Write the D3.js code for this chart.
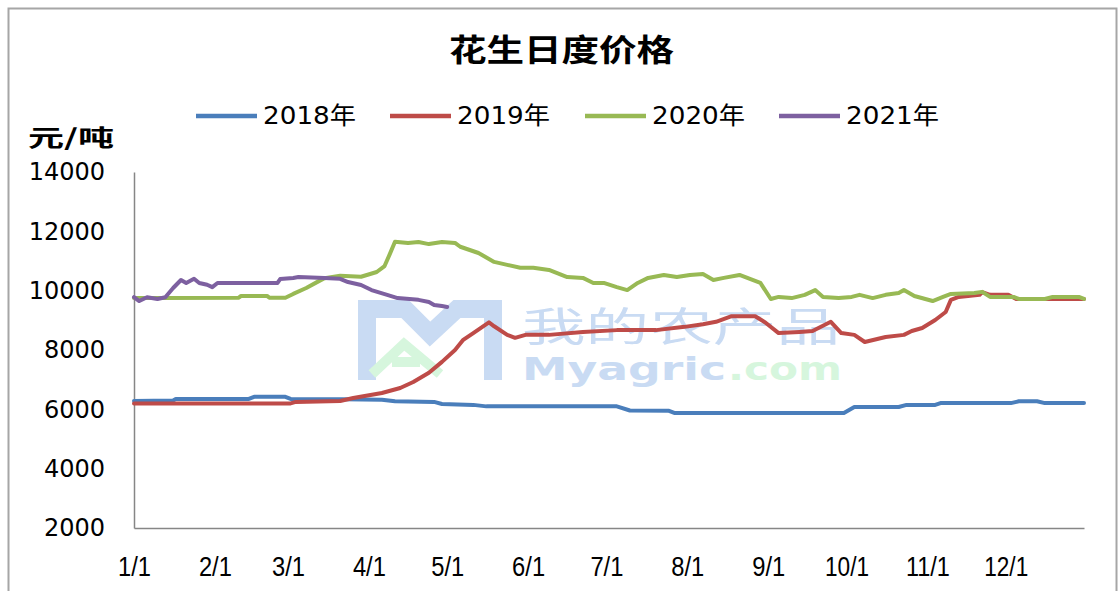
<!DOCTYPE html>
<html><head><meta charset="utf-8">
<script src="https://cdn.jsdelivr.net/npm/d3@7/dist/d3.min.js"></script>
<style>html,body{margin:0;padding:0;background:#fff;}svg{display:block;}</style>
</head><body>
<script>
// ---- data (day of year index, price 元/吨) ----
const title = "花生日度价格";
const unitLabel = "元/吨";
const seriesNames = ["2018年", "2019年", "2020年", "2021年"];
const yTicks = [2000, 4000, 6000, 8000, 10000, 12000, 14000];
const xTickLabels = ["1/1","2/1","3/1","4/1","5/1","6/1","7/1","8/1","9/1","10/1","11/1","12/1"];
const xTickDays = [0,31,59,90,120,151,181,212,243,273,304,334];

const days2018 = [0,15,16,44,46,58,60,80,95,100,115,118,130,135,185,190,205,207,272,276,293,296,307,309,336,339,346,349,364];
const price2018 = [6280,6300,6350,6350,6420,6420,6350,6340,6320,6270,6250,6180,6150,6100,6100,5960,5950,5880,5880,6080,6080,6150,6150,6210,6210,6270,6270,6210,6210];

const days2019 = [0,60,62,79,84,95,102,107,113,118,123,126,130,136,138,143,146,150,159,172,185,200,211,218,223,229,238,242,247,255,260,267,271,276,280,288,295,298,302,307,311,313,316,324,325,328,335,338,364];
const price2019 = [6200,6200,6250,6280,6380,6550,6720,6920,7230,7600,8000,8330,8570,8930,8800,8510,8410,8510,8510,8610,8670,8670,8780,8870,8950,9140,9140,8920,8570,8610,8640,8950,8570,8510,8270,8440,8510,8640,8740,9010,9280,9690,9790,9860,9950,9860,9860,9720,9720];

const days2020 = [0,9,40,41,51,52,58,61,66,71,73,79,87,93,96,98,100,105,109,113,118,123,125,132,138,143,148,153,159,166,172,176,180,185,189,193,197,203,208,213,218,222,226,232,237,240,244,247,252,257,261,264,270,275,278,283,288,293,295,299,306,310,313,322,325,328,337,339,349,352,362,364];
const price2020 = [9750,9750,9760,9820,9820,9760,9760,9890,10090,10330,10420,10500,10470,10630,10830,11230,11650,11610,11640,11570,11640,11610,11480,11270,10970,10870,10770,10770,10700,10460,10430,10260,10260,10120,10020,10260,10430,10530,10460,10530,10560,10360,10430,10530,10360,10260,9720,9790,9750,9860,10020,9790,9750,9790,9860,9750,9860,9920,10020,9820,9650,9790,9890,9920,9960,9790,9790,9720,9720,9790,9790,9720];

const days2021 = [0,2,5,9,12,15,18,20,23,25,28,30,32,55,56,61,63,73,79,82,87,91,97,101,109,113,115,118,120];
const price2021 = [9780,9650,9780,9720,9780,10090,10360,10260,10400,10260,10200,10120,10260,10260,10390,10430,10460,10430,10400,10290,10190,10020,9860,9750,9690,9620,9520,9480,9450];

const colors = ["#4a7ebb", "#be4b48", "#98b954", "#7d60a0"];

const series = [
  {name: seriesNames[0], days: days2018, values: price2018},
  {name: seriesNames[1], days: days2019, values: price2019},
  {name: seriesNames[2], days: days2020, values: price2020},
  {name: seriesNames[3], days: days2021, values: price2021}
];

// ---- layout ----
const W = 1118, H = 591;
const plot = {left: 134, right: 1084, top: 172, bottom: 528};

const svg = d3.select("body").append("svg").attr("width", W).attr("height", H);

svg.append("rect").attr("x", 8.5).attr("y", 8.5).attr("width", 1108).attr("height", 600)
  .attr("fill", "#fff").attr("stroke", "#a6a6a6").attr("stroke-width", 2);

const x = d3.scaleLinear().domain([0, 364]).range([plot.left, plot.right]);
const y = d3.scaleLinear().domain([2000, 14000]).range([plot.bottom, plot.top]);

// ---- watermark ----
const wm = svg.append("g").attr("class", "watermark");
wm.append("path").attr("d", "M367,380 V309 H405 L430,334 L457,309 H493 V380")
  .attr("fill", "none").attr("stroke", "#c9dbf3").attr("stroke-width", 18).attr("stroke-linejoin", "miter");
wm.append("path").attr("d", "M372,374 L404,344 L440,374 M392,362 H420")
  .attr("fill", "none").attr("stroke", "#d6f6dd").attr("stroke-width", 10);
wm.append("text").attr("x", 522).attr("y", 341).attr("font-family", "Noto Sans CJK SC")
  .attr("font-size", 40).attr("font-weight", 400).attr("fill", "#c9dbf3")
  .attr("textLength", 318).attr("lengthAdjust", "spacingAndGlyphs").text("我的农产品");
wm.append("text").attr("x", 522).attr("y", 380).attr("font-family", "DejaVu Sans")
  .attr("font-size", 32).attr("font-weight", 700).attr("fill", "#c9dbf3")
  .attr("textLength", 204).attr("lengthAdjust", "spacingAndGlyphs").text("Myagric");
wm.append("text").attr("x", 728).attr("y", 380).attr("font-family", "DejaVu Sans")
  .attr("font-size", 32).attr("font-weight", 700).attr("fill", "#d6f6dd")
  .attr("textLength", 114).attr("lengthAdjust", "spacingAndGlyphs").text(".com");

// ---- axes ----
const yAxis = d3.axisLeft(y).tickValues(yTicks).tickSize(0).tickPadding(29).tickFormat(d3.format("d"));
const gy = svg.append("g").attr("transform", `translate(${plot.left},0)`).call(yAxis);
gy.select(".domain").attr("stroke", "#868686").attr("stroke-width", 1.5);
gy.selectAll("text").attr("font-family", "DejaVu Sans").attr("font-size", 24).attr("fill", "#000");

const xAxis = d3.axisBottom(x).tickValues(xTickDays).tickSize(0).tickPadding(0)
  .tickFormat((d, i) => xTickLabels[i]);
const gx = svg.append("g").attr("transform", `translate(0,${plot.bottom})`).call(xAxis);
gx.select(".domain").attr("stroke", "#868686").attr("stroke-width", 1.5);
gx.selectAll("text").attr("font-family", "Liberation Sans").attr("font-size", 28).attr("fill", "#000")
  .attr("dy", null).attr("y", 48)
  .attr("textLength", (d, i) => xTickLabels[i].length > 3 ? 44 : 33)
  .attr("lengthAdjust", "spacingAndGlyphs");

// ---- lines ----
const line = d3.line().x(d => x(d[0])).y(d => y(d[1]));
series.forEach((s, i) => {
  const pts = s.days.map((d, k) => [d, s.values[k]]);
  svg.append("path").datum(pts).attr("d", line)
    .attr("fill", "none").attr("stroke", colors[i]).attr("stroke-width", 4)
    .attr("stroke-linejoin", "round").attr("stroke-linecap", "round");
});

// ---- title, unit ----
svg.append("text").attr("x", 449).attr("y", 61).attr("font-family", "Noto Sans CJK SC")
  .attr("font-size", 31).attr("font-weight", 700).attr("fill", "#000")
  .attr("textLength", 225).attr("lengthAdjust", "spacingAndGlyphs").text(title);
svg.append("text").attr("x", 28).attr("y", 146).attr("font-family", "Noto Sans CJK SC")
  .attr("font-size", 23).attr("font-weight", 700).attr("fill", "#000")
  .attr("textLength", 86).attr("lengthAdjust", "spacingAndGlyphs").text(unitLabel);

// ---- legend ----
const legendX = [196, 390, 585, 779];
const leg = svg.append("g");
seriesNames.forEach((n, i) => {
  leg.append("line").attr("x1", legendX[i]).attr("x2", legendX[i] + 61)
    .attr("y1", 116).attr("y2", 116).attr("stroke", colors[i]).attr("stroke-width", 4.5);
  leg.append("text").attr("x", legendX[i] + 67).attr("y", 124)
    .attr("font-family", "DejaVu Sans, Noto Sans CJK SC").attr("font-size", 24).attr("fill", "#000")
    .attr("textLength", 93).attr("lengthAdjust", "spacingAndGlyphs").text(n);
});
</script>
</body></html>
